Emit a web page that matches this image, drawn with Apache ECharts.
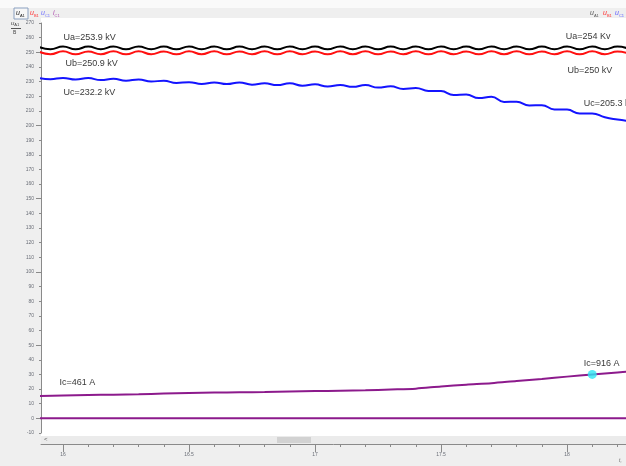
<!DOCTYPE html>
<html>
<head>
<meta charset="utf-8">
<script src="https://cdn.jsdelivr.net/npm/echarts@6/dist/echarts.min.js"></script>
<style>
  html, body { margin: 0; padding: 0; background: #efefef; }
  #chart { width: 626px; height: 466px; }
</style>
</head>
<body>
<div id="chart"></div>
<script>
// Time axis (s) shared by the three phase voltages
const timeU = [
  15.90, 15.95, 16.00, 16.05, 16.10, 16.15, 16.20, 16.25, 16.30, 16.35, 16.40, 16.45,
  16.50, 16.55, 16.60, 16.65, 16.70, 16.75, 16.80, 16.85, 16.90, 16.95, 17.00, 17.05,
  17.10, 17.15, 17.20, 17.25, 17.30, 17.35, 17.40, 17.45, 17.50, 17.55, 17.60, 17.65,
  17.70, 17.75, 17.80, 17.85, 17.90, 17.95, 18.00, 18.05, 18.10, 18.15, 18.20, 18.25
];
// Phase A voltage, kV
const voltageA = [
  254.0, 252.1, 254.0, 252.0, 253.9, 252.1, 254.0, 252.0, 254.0, 252.1, 253.9, 252.0,
  254.0, 252.1, 254.0, 252.0, 253.9, 252.1, 254.0, 252.0, 254.0, 252.1, 253.9, 252.0,
  254.0, 252.1, 254.0, 252.0, 253.9, 252.1, 254.0, 252.0, 254.0, 252.1, 253.9, 252.0,
  254.0, 252.1, 254.0, 252.0, 253.9, 252.1, 254.0, 252.0, 254.0, 252.1, 253.9, 252.0
];
// Phase B voltage, kV
const voltageB = [
  250.7, 248.7, 250.7, 248.6, 250.6, 248.7, 250.7, 248.6, 250.7, 248.7, 250.6, 248.6,
  250.7, 248.7, 250.7, 248.6, 250.6, 248.7, 250.7, 248.6, 250.7, 248.7, 250.6, 248.6,
  250.7, 248.7, 250.7, 248.6, 250.6, 248.7, 250.7, 248.6, 250.7, 248.7, 250.6, 248.6,
  250.7, 248.7, 250.7, 248.6, 250.6, 248.7, 250.7, 248.6, 250.7, 248.7, 250.6, 248.6
];
// Phase C voltage, kV (sagging towards the end)
const voltageC = [
  232.6, 231.6, 232.5, 231.4, 232.4, 231.0, 231.9, 230.6, 231.4, 230.0, 230.6, 229.0,
  229.6, 228.4, 229.4, 228.3, 229.4, 227.9, 228.8, 227.6, 228.8, 227.2, 228.1, 226.6,
  227.6, 226.4, 227.6, 225.9, 226.8, 225.0, 225.6, 223.6, 223.5, 220.9, 221.2, 218.7,
  219.6, 216.1, 216.2, 213.7, 213.9, 211.0, 210.9, 208.2, 208.2, 205.6, 204.1, 203.0
];
// Phase C current (scaled trace) and its time axis
const timeI = [
  15.9, 16.0, 16.1, 16.2, 16.3, 16.4, 16.5, 16.6, 16.7, 16.8, 16.9, 17.0, 17.1,
  17.2, 17.3, 17.4, 17.5, 17.6, 17.7, 17.8, 17.9, 18.0, 18.1, 18.2, 18.25
];
const currentC = [
  15.3, 15.6, 15.9, 16.2, 16.5, 16.9, 17.3, 17.6, 17.8, 18.0, 18.3, 18.6, 18.9,
  19.2, 19.7, 20.3, 21.8, 23.0, 24.0, 25.5, 26.9, 28.5, 30.0, 31.4, 32.1
];
// Zero-level trace
const zeroTime = [15.9, 18.25];
const zeroLevel = [0, 0];
// Highlighted sample on the current trace
const cursorPoint = [18.1, 30.0];

// Tick positions
const xMajorTicks = [16, 16.5, 17, 17.5, 18];
const xMinorTicks = [16.1, 16.2, 16.3, 16.4, 16.6, 16.7, 16.8, 16.9, 17.1, 17.2, 17.3, 17.4,
                     17.6, 17.7, 17.8, 17.9, 18.1, 18.2];
const yLabels = [-10, 0, 10, 20, 30, 40, 50, 60, 70, 80, 90, 100, 110, 120, 130, 140, 150,
                 160, 170, 180, 190, 200, 210, 220, 230, 240, 250, 260, 270];
const yMajorTicks = [0, 50, 100, 150, 200, 250];

// Annotation texts with their anchor (time, value)
const notes = [
  { text: 'Ua=253.9 kV', at: [16.0, 260.3] },
  { text: 'Ub=250.9 kV', at: [16.008, 242.6] },
  { text: 'Uc=232.2 kV', at: [16.0, 222.8] },
  { text: 'Ua=254 Kv', at: [17.993, 261.0] },
  { text: 'Ub=250 kV', at: [18.0, 237.8] },
  { text: 'Uc=205.3 kV', at: [18.064, 215.2] },
  { text: 'Ic=461 A', at: [15.984, 24.6] },
  { text: 'Ic=916 A', at: [18.064, 37.6] }
];

const X_MIN = 15.9127, X_MAX = 18.234;
const FONT = '"Liberation Sans", Arial, sans-serif';

const zip = (xs, ys) => xs.map((x, i) => [x, ys[i]]);

const chart = echarts.init(document.getElementById('chart'), null, { renderer: 'canvas' });

const axisGray = '#8a8a8a';
const tickFont = { fontSize: 5, color: '#6b6f78', fontFamily: FONT };

function channelTag(left, top, sym, sub, color, size) {
  size = size || 7;
  return {
    type: 'text', z: 6, left: left, top: top,
    style: {
      text: '{u|' + sym + '}{s|' + sub + '}',
      rich: {
        u: { fontSize: size, fontStyle: 'italic', fill: color, fontFamily: FONT },
        s: { fontSize: 4, fill: color, fontFamily: FONT, padding: [size - 3, 0, 0, 0] }
      }
    }
  };
}

const option = {
  backgroundColor: '#efefef',
  animation: false,
  grid: [
    // main plot: y from -10 (bottom) to 270 (top)
    { left: 41, right: 0, top: 23, bottom: 33, containLabel: false },
    // strip that carries the time axis under the scroll bar
    { left: 41, right: 0, top: 430, bottom: 22, containLabel: false }
  ],
  graphic: [
    { type: 'rect', z: -10, shape: { x: 0, y: 0, width: 626, height: 8 }, style: { fill: '#fafafa' } },
    { type: 'rect', z: -10, shape: { x: 41, y: 18, width: 585, height: 418 }, style: { fill: '#ffffff' } },
    { type: 'rect', z: -9, shape: { x: 41, y: 436, width: 585, height: 8 }, style: { fill: '#ebebeb' } },
    { type: 'rect', z: -8, shape: { x: 277, y: 437, width: 34, height: 6 }, style: { fill: '#d2d2d2' } },
    { type: 'text', z: 5, left: 44, top: 436, style: { text: '<', font: '6px ' + FONT, fill: '#555' } },
    { type: 'rect', z: 5, shape: { x: 14, y: 8, width: 14, height: 11 }, style: { fill: '#f7f7f7', stroke: '#8aa0c0', lineWidth: 1 } },
    channelTag(16, 10, 'u', 'A1', '#222'),
    channelTag(30, 10, 'u', 'B1', '#ff3030'),
    channelTag(41, 10, 'u', 'C1', '#7070ff'),
    channelTag(53, 10, 'i', 'C1', '#b050b0'),
    channelTag(590, 10, 'u', 'A1', '#555'),
    channelTag(603, 10, 'u', 'B1', '#ff3030'),
    channelTag(615, 10, 'u', 'C1', '#6060ff'),
    channelTag(11, 20, 'u', 'A1', '#444', 6),
    { type: 'line', z: 6, shape: { x1: 11, y1: 28.5, x2: 21, y2: 28.5 }, style: { stroke: '#555', lineWidth: 1 } },
    { type: 'text', z: 6, left: 13, top: 30, style: { text: 'В', font: '5px ' + FONT, fill: '#444' } },
    { type: 'text', z: 6, left: 619, top: 458, style: { text: 't,', font: 'italic 5px ' + FONT, fill: '#666' } }
  ],
  xAxis: [
    // hidden axis of the main plot
    { type: 'value', gridIndex: 0, min: X_MIN, max: X_MAX, show: false },
    // time axis: major ticks + labels
    {
      type: 'value', gridIndex: 1, min: X_MIN, max: X_MAX, position: 'bottom',
      axisLine: { show: true, lineStyle: { color: axisGray, width: 1 } },
      axisTick: { show: true, inside: false, length: 8, customValues: xMajorTicks, lineStyle: { color: axisGray } },
      axisLabel: { show: true, customValues: xMajorTicks, margin: 8, formatter: v => String(v), ...tickFont },
      splitLine: { show: false }
    },
    // time axis: minor ticks
    {
      type: 'value', gridIndex: 1, min: X_MIN, max: X_MAX, position: 'bottom',
      axisLine: { show: false },
      axisTick: { show: true, inside: false, length: 3, customValues: xMinorTicks, lineStyle: { color: axisGray } },
      axisLabel: { show: false },
      splitLine: { show: false }
    }
  ],
  yAxis: [
    {
      type: 'value', gridIndex: 0, min: -10, max: 270, position: 'left',
      axisLine: { show: true, lineStyle: { color: axisGray, width: 1 } },
      axisTick: { show: true, length: 2, customValues: yLabels, lineStyle: { color: axisGray } },
      axisLabel: { show: true, customValues: yLabels, margin: 7, ...tickFont },
      splitLine: { show: false }
    },
    {
      type: 'value', gridIndex: 0, min: -10, max: 270, position: 'left',
      axisLine: { show: false },
      axisTick: { show: true, length: 5, customValues: yMajorTicks, lineStyle: { color: axisGray } },
      axisLabel: { show: false },
      splitLine: { show: false }
    },
    { type: 'value', gridIndex: 1, show: false }
  ],
  series: [
    {
      name: 'uA1', type: 'line', xAxisIndex: 0, yAxisIndex: 0, smooth: 0.5, symbol: 'none',
      data: zip(timeU, voltageA), lineStyle: { color: '#000000', width: 2 }, z: 3
    },
    {
      name: 'uB1', type: 'line', xAxisIndex: 0, yAxisIndex: 0, smooth: 0.5, symbol: 'none',
      data: zip(timeU, voltageB), lineStyle: { color: '#ff1010', width: 2 }, z: 3
    },
    {
      name: 'uC1', type: 'line', xAxisIndex: 0, yAxisIndex: 0, smooth: 0.5, symbol: 'none',
      data: zip(timeU, voltageC), lineStyle: { color: '#1414ff', width: 2 }, z: 3
    },
    {
      name: 'iC1', type: 'line', xAxisIndex: 0, yAxisIndex: 0, smooth: 0.3, symbol: 'none',
      data: zip(timeI, currentC), lineStyle: { color: '#8c1a8c', width: 2 }, z: 3
    },
    {
      name: 'zero', type: 'line', xAxisIndex: 0, yAxisIndex: 0, symbol: 'none',
      data: zip(zeroTime, zeroLevel), lineStyle: { color: '#8c1a8c', width: 2 }, z: 3
    },
    {
      name: 'cursor', type: 'scatter', xAxisIndex: 0, yAxisIndex: 0,
      data: [cursorPoint], symbol: 'circle', symbolSize: 9,
      itemStyle: { color: '#2ee6f2' }, z: 4
    },
    {
      name: 'notes', type: 'scatter', xAxisIndex: 0, yAxisIndex: 0, symbol: 'circle', symbolSize: 1,
      silent: true, itemStyle: { color: 'rgba(0,0,0,0)' },
      data: notes.map(n => ({ value: n.at, name: n.text })),
      label: {
        show: true, position: 'right', distance: 0, formatter: p => p.name,
        fontSize: 9, color: '#000', fontFamily: FONT
      },
      z: 5
    }
  ]
};

chart.setOption(option);
</script>
</body>
</html>
